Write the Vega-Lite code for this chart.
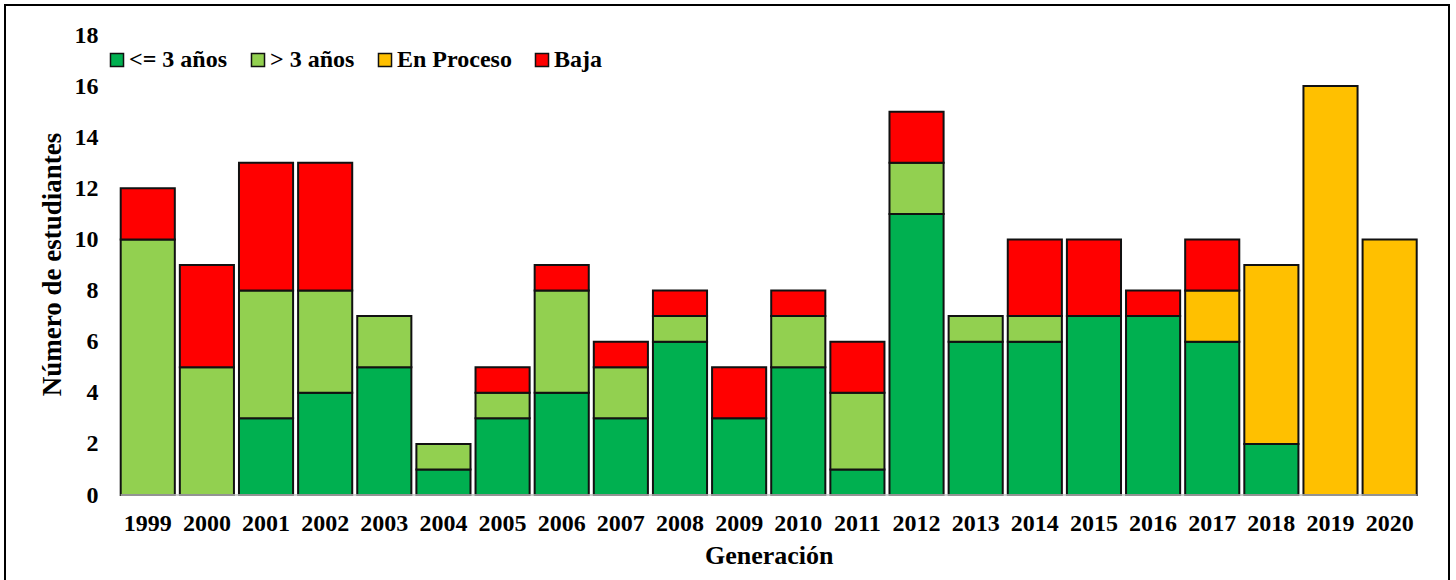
{
  "$schema": "https://vega.github.io/schema/vega-lite/v6.json",
  "autosize": "none",
  "padding": {"left": 5, "top": 5, "right": 7, "bottom": 0},
  "width": 1444,
  "height": 600,
  "background": "#ffffff",
  "config": {
    "font": "Liberation Serif",
    "view": {"stroke": "#000000", "strokeWidth": 2},
    "axis": {
      "labelFont": "Liberation Serif",
      "labelFontWeight": "bold",
      "labelFontSize": 24,
      "labelColor": "#000000",
      "titleFont": "Liberation Serif",
      "titleFontWeight": "bold",
      "titleFontSize": 26,
      "titleColor": "#000000",
      "grid": false,
      "ticks": false,
      "domain": false
    },
    "legend": {
      "labelFont": "Liberation Serif",
      "labelFontWeight": "bold",
      "labelFontSize": 24,
      "labelColor": "#000000"
    }
  },
  "datasets": {
    "bars": [
      {"gen": "1999", "cat": "> 3 años", "ord": 2, "n": 10},
      {"gen": "1999", "cat": "Baja", "ord": 4, "n": 2},
      {"gen": "2000", "cat": "> 3 años", "ord": 2, "n": 5},
      {"gen": "2000", "cat": "Baja", "ord": 4, "n": 4},
      {"gen": "2001", "cat": "<= 3 años", "ord": 1, "n": 3},
      {"gen": "2001", "cat": "> 3 años", "ord": 2, "n": 5},
      {"gen": "2001", "cat": "Baja", "ord": 4, "n": 5},
      {"gen": "2002", "cat": "<= 3 años", "ord": 1, "n": 4},
      {"gen": "2002", "cat": "> 3 años", "ord": 2, "n": 4},
      {"gen": "2002", "cat": "Baja", "ord": 4, "n": 5},
      {"gen": "2003", "cat": "<= 3 años", "ord": 1, "n": 5},
      {"gen": "2003", "cat": "> 3 años", "ord": 2, "n": 2},
      {"gen": "2004", "cat": "<= 3 años", "ord": 1, "n": 1},
      {"gen": "2004", "cat": "> 3 años", "ord": 2, "n": 1},
      {"gen": "2005", "cat": "<= 3 años", "ord": 1, "n": 3},
      {"gen": "2005", "cat": "> 3 años", "ord": 2, "n": 1},
      {"gen": "2005", "cat": "Baja", "ord": 4, "n": 1},
      {"gen": "2006", "cat": "<= 3 años", "ord": 1, "n": 4},
      {"gen": "2006", "cat": "> 3 años", "ord": 2, "n": 4},
      {"gen": "2006", "cat": "Baja", "ord": 4, "n": 1},
      {"gen": "2007", "cat": "<= 3 años", "ord": 1, "n": 3},
      {"gen": "2007", "cat": "> 3 años", "ord": 2, "n": 2},
      {"gen": "2007", "cat": "Baja", "ord": 4, "n": 1},
      {"gen": "2008", "cat": "<= 3 años", "ord": 1, "n": 6},
      {"gen": "2008", "cat": "> 3 años", "ord": 2, "n": 1},
      {"gen": "2008", "cat": "Baja", "ord": 4, "n": 1},
      {"gen": "2009", "cat": "<= 3 años", "ord": 1, "n": 3},
      {"gen": "2009", "cat": "Baja", "ord": 4, "n": 2},
      {"gen": "2010", "cat": "<= 3 años", "ord": 1, "n": 5},
      {"gen": "2010", "cat": "> 3 años", "ord": 2, "n": 2},
      {"gen": "2010", "cat": "Baja", "ord": 4, "n": 1},
      {"gen": "2011", "cat": "<= 3 años", "ord": 1, "n": 1},
      {"gen": "2011", "cat": "> 3 años", "ord": 2, "n": 3},
      {"gen": "2011", "cat": "Baja", "ord": 4, "n": 2},
      {"gen": "2012", "cat": "<= 3 años", "ord": 1, "n": 11},
      {"gen": "2012", "cat": "> 3 años", "ord": 2, "n": 2},
      {"gen": "2012", "cat": "Baja", "ord": 4, "n": 2},
      {"gen": "2013", "cat": "<= 3 años", "ord": 1, "n": 6},
      {"gen": "2013", "cat": "> 3 años", "ord": 2, "n": 1},
      {"gen": "2014", "cat": "<= 3 años", "ord": 1, "n": 6},
      {"gen": "2014", "cat": "> 3 años", "ord": 2, "n": 1},
      {"gen": "2014", "cat": "Baja", "ord": 4, "n": 3},
      {"gen": "2015", "cat": "<= 3 años", "ord": 1, "n": 7},
      {"gen": "2015", "cat": "Baja", "ord": 4, "n": 3},
      {"gen": "2016", "cat": "<= 3 años", "ord": 1, "n": 7},
      {"gen": "2016", "cat": "Baja", "ord": 4, "n": 1},
      {"gen": "2017", "cat": "<= 3 años", "ord": 1, "n": 6},
      {"gen": "2017", "cat": "En Proceso", "ord": 3, "n": 2},
      {"gen": "2017", "cat": "Baja", "ord": 4, "n": 2},
      {"gen": "2018", "cat": "<= 3 años", "ord": 1, "n": 2},
      {"gen": "2018", "cat": "En Proceso", "ord": 3, "n": 7},
      {"gen": "2019", "cat": "En Proceso", "ord": 3, "n": 16},
      {"gen": "2020", "cat": "En Proceso", "ord": 3, "n": 10}
    ],
    "base": [{"first": "1999", "last": "2020", "v": 0}]
  },
  "layer": [
    {
      "data": {"name": "bars"},
      "mark": {"type": "bar", "stroke": "#111111", "strokeWidth": 2},
      "encoding": {
        "x": {
          "field": "gen",
          "type": "nominal",
          "sort": null,
          "scale": {"range": [115.7, 1411.7], "paddingInner": 0.085, "paddingOuter": 0},
          "axis": {
            "title": "Generación",
            "orient": "bottom",
            "offset": -110,
            "labelAngle": 0,
            "labelPadding": 16,
            "titlePadding": 7
          }
        },
        "y": {
          "field": "n",
          "type": "quantitative",
          "stack": "zero",
          "scale": {"domain": [-4.304, 19.174], "nice": false, "zero": false},
          "axis": {
            "title": "Número de estudiantes",
            "titleFontSize": 27,
            "offset": -93,
            "values": [0, 2, 4, 6, 8, 10, 12, 14, 16, 18],
            "labelPadding": 0,
            "titleX": -46,
            "titleY": 259,
            "titleAngle": -90,
            "titleBaseline": "middle",
            "titleAlign": "center"
          }
        },
        "color": {
          "field": "cat",
          "type": "nominal",
          "scale": {
            "domain": ["<= 3 años", "> 3 años", "En Proceso", "Baja"],
            "range": ["#00B050", "#92D050", "#FFC000", "#FF0000"]
          },
          "legend": {
            "title": null,
            "orient": "none",
            "direction": "horizontal",
            "legendX": 100,
            "legendY": 43,
            "padding": 0,
            "symbolType": "square",
            "symbolSize": 170,
            "symbolStrokeColor": "#111111",
            "symbolStrokeWidth": 1.5,
            "symbolOpacity": 1,
            "labelOffset": 0,
            "columnPadding": 18
          }
        },
        "order": {"field": "ord", "type": "quantitative", "sort": "ascending"}
      }
    },
    {
      "data": {"name": "base"},
      "mark": {"type": "rule", "color": "#BFBFBF", "strokeWidth": 1.5},
      "encoding": {
        "x": {"field": "first", "type": "nominal", "bandPosition": 0},
        "x2": {"field": "last", "bandPosition": 1},
        "y": {"field": "v", "type": "quantitative"}
      }
    }
  ]
}
